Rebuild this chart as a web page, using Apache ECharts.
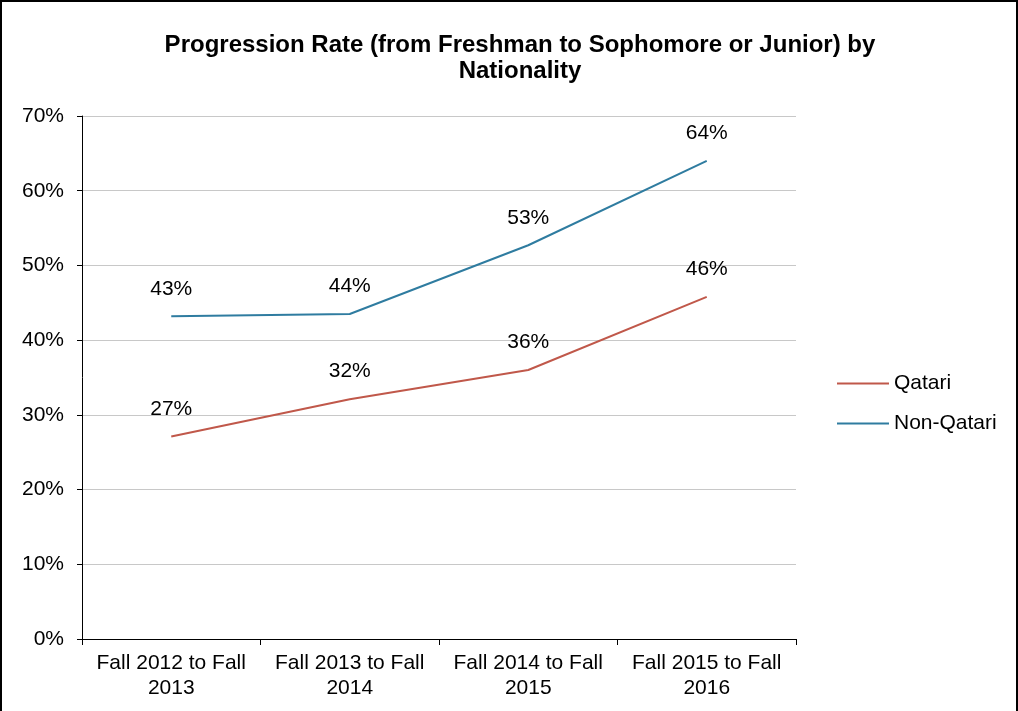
<!DOCTYPE html>
<html>
<head>
<meta charset="utf-8">
<script src="https://cdn.jsdelivr.net/npm/echarts@6/dist/echarts.min.js"></script>
<style>
    html, body {margin: 0; padding: 0; background: #fff;}
    #frame {position: absolute; left: 0; top: 0; width: 1014px; height: 720px; border: 2px solid #000; overflow: hidden;}
    #chart {position: absolute; left: -2px; top: -2px; width: 1018px; height: 711px;}
</style>
</head>
<body>
<div id="frame"><div id="chart"></div></div>
<script>
    const categories = ['Fall 2012 to Fall\n2013', 'Fall 2013 to Fall\n2014', 'Fall 2014 to Fall\n2015', 'Fall 2015 to Fall\n2016'];
    const qatari = [27.1, 32.1, 36.0, 45.8];
    const nonQatari = [43.2, 43.5, 52.7, 64.0];
    const yTicks = [0, 10, 20, 30, 40, 50, 60, 70];

    const font = 'Liberation Sans, Arial, sans-serif';

    // data label shared by both lines
    const pointLabel = {
        show: true, position: 'top', distance: 17,
        fontSize: 21, color: '#000', fontFamily: font,
        formatter: p => Math.round(p.value) + '%'
    };

    let myChart = echarts.init(document.getElementById('chart'));
    myChart.setOption({
        animation: false,
        textStyle: {fontFamily: font},
        title: {
            text: 'Progression Rate (from Freshman to Sophomore or Junior) by\nNationality',
            left: 515,
            textAlign: 'center',
            top: 27,
            textStyle: {fontSize: 24, fontWeight: 'bold', color: '#000', lineHeight: 26, fontFamily: font}
        },
        legend: {
            orient: 'vertical',
            left: 832,
            top: 368,
            icon: 'path://M0,0 L52,0 L52,2 L0,2 Z',
            itemWidth: 52,
            itemHeight: 2,
            itemGap: 19,
            textStyle: {fontSize: 21, color: '#000', fontFamily: font},
            data: ['Qatari', 'Non-Qatari']
        },
        grid: {left: 82, right: 222, top: 116, bottom: 72},
        xAxis: {
            type: 'category',
            data: categories,
            axisLine: {lineStyle: {color: '#000', width: 1}},
            axisTick: {show: true, length: 6, lineStyle: {color: '#000'}},
            axisLabel: {fontSize: 21, color: '#000', lineHeight: 25, margin: 12, interval: 0}
        },
        yAxis: {
            type: 'value',
            min: yTicks[0],
            max: yTicks[yTicks.length - 1],
            interval: 10,
            axisLine: {show: true, lineStyle: {color: '#000', width: 1}},
            axisTick: {show: true, length: 5, lineStyle: {color: '#000'}},
            axisLabel: {fontSize: 21, color: '#000', margin: 18, formatter: '{value}%'},
            splitLine: {lineStyle: {color: '#c8c8c8', width: 1}}
        },
        series: [
            {
                name: 'Qatari',
                type: 'line',
                data: qatari,
                symbol: 'circle',
                symbolSize: 0,
                showAllSymbol: true,
                lineStyle: {color: '#C0584A', width: 2},
                itemStyle: {color: '#C0584A'},
                label: pointLabel
            },
            {
                name: 'Non-Qatari',
                type: 'line',
                data: nonQatari,
                symbol: 'circle',
                symbolSize: 0,
                showAllSymbol: true,
                lineStyle: {color: '#2F7CA0', width: 2},
                itemStyle: {color: '#2F7CA0'},
                label: pointLabel
            }
        ]
    });
</script>
</body>
</html>
